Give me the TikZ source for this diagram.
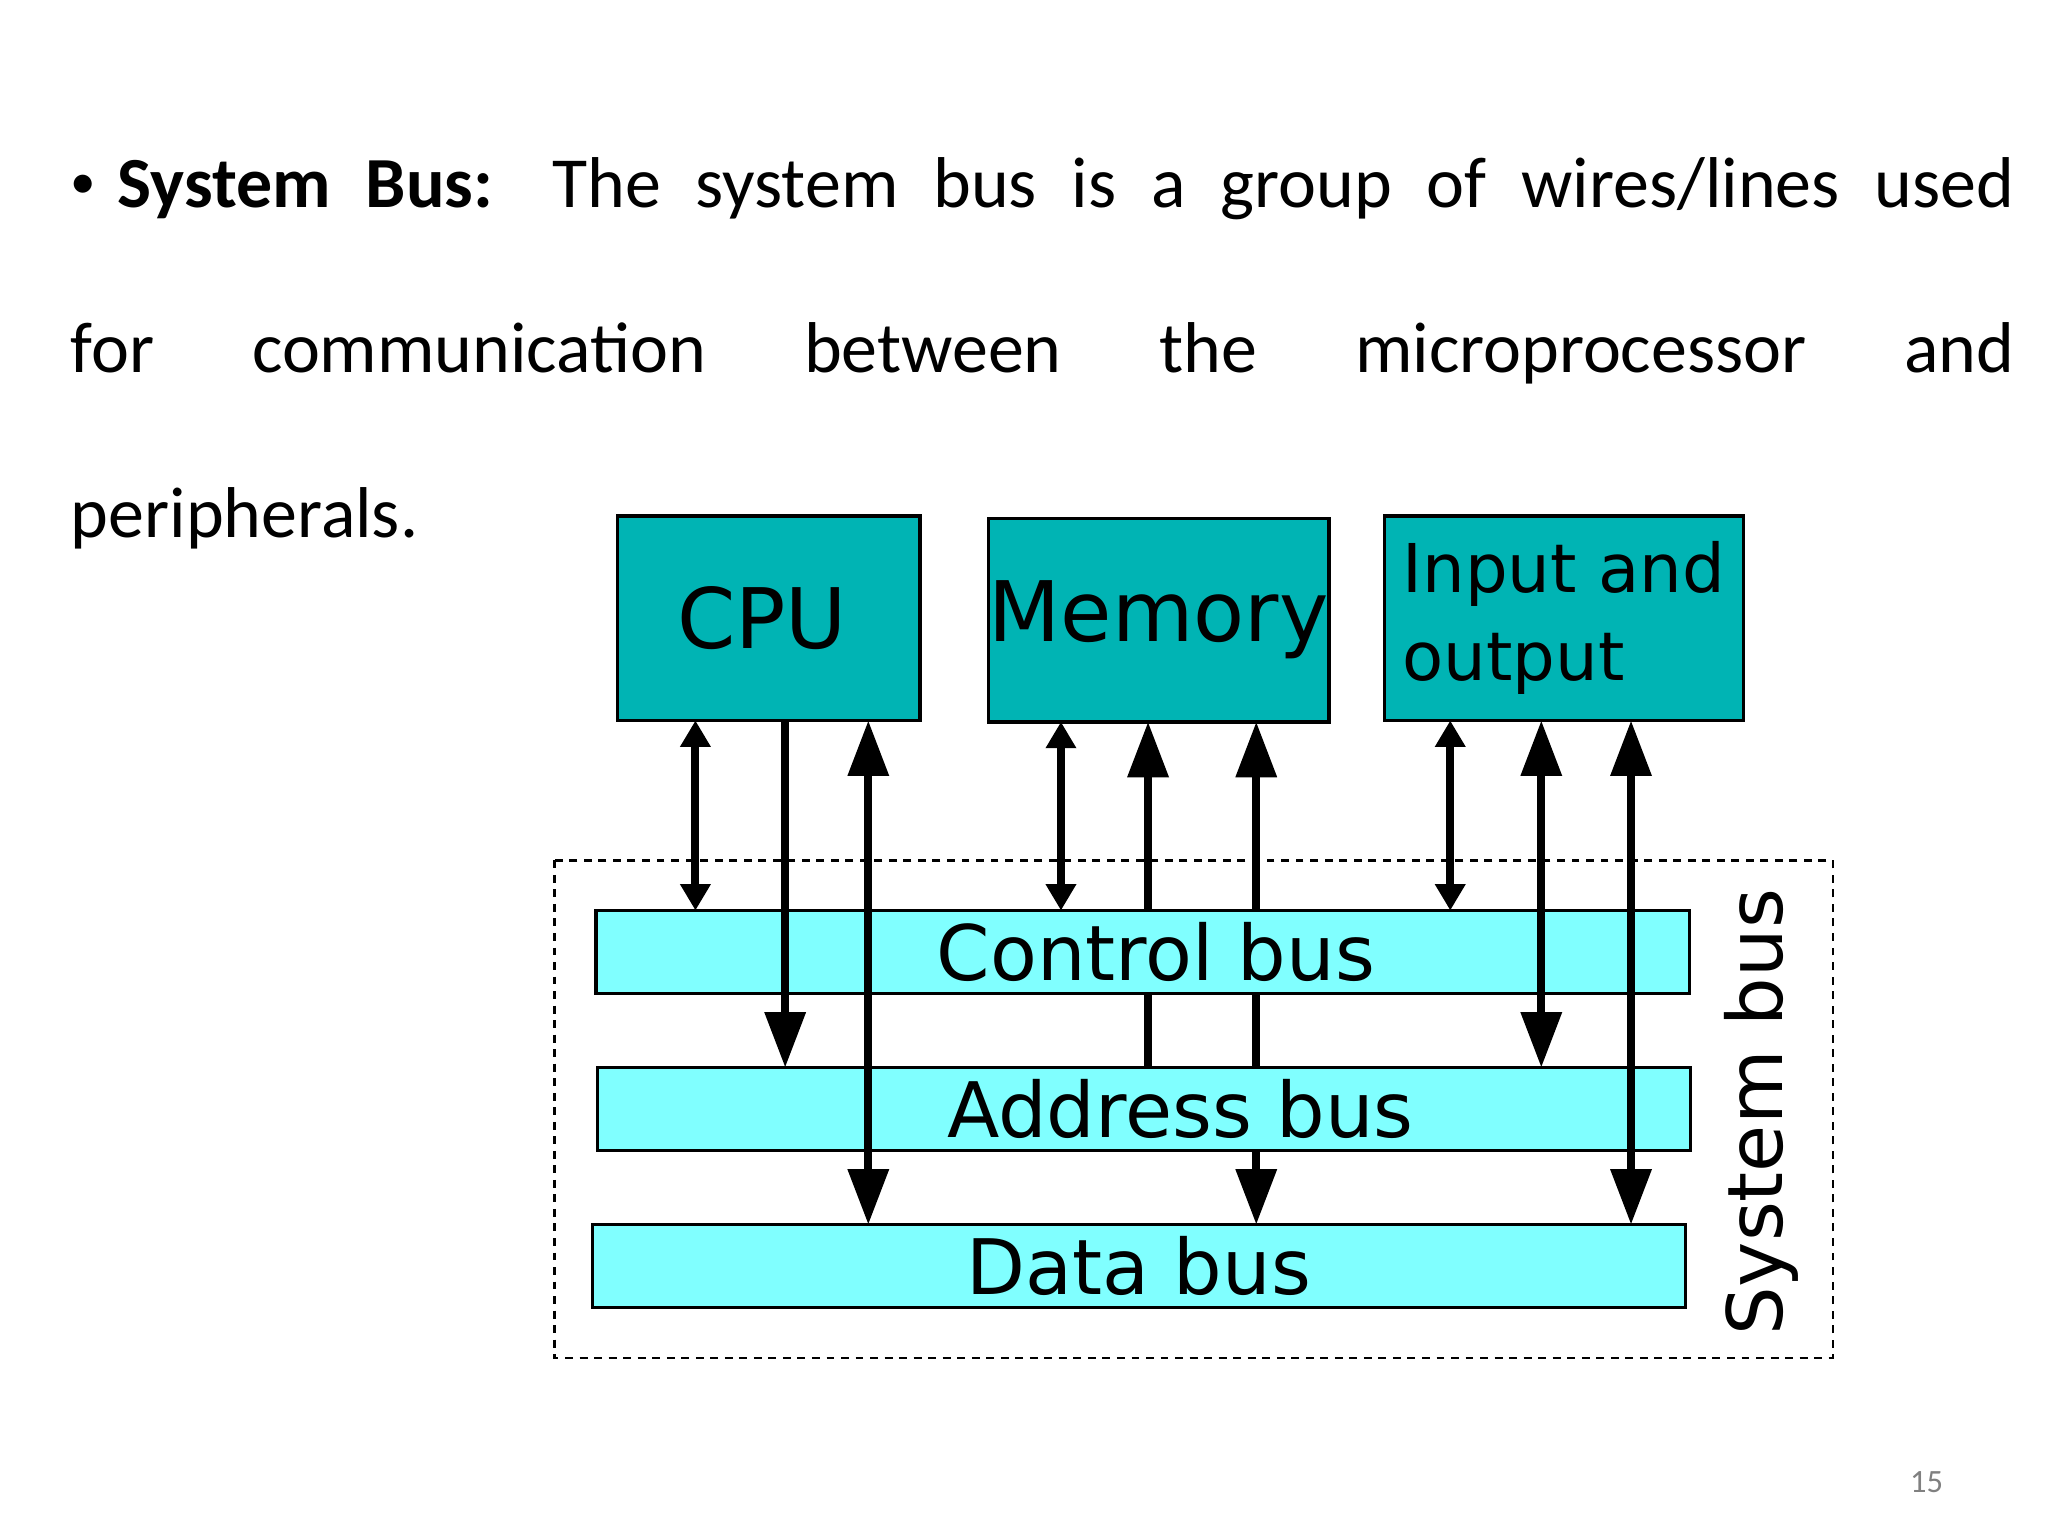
\documentclass[tikz,border=0pt]{standalone}
\usepackage{fontspec}
\setmainfont{Carlito}
\newfontfamily\djvfont{DejaVu Sans}
\usetikzlibrary{arrows.meta}
\begin{document}
\begin{tikzpicture}[x=0.01cm,y=-0.01cm,
  top/.style={draw=black,line width=0.025cm,fill=teal0,inner sep=0},
  bus/.style={draw=black,line width=0.025cm,fill=cyan0,inner sep=0},
  ln/.style={line width=0.06cm},
  big/.style={-{Triangle[length=0.42cm,width=0.3cm]}},
  dbl/.style={{Triangle[length=0.2cm,width=0.22cm]}-{Triangle[length=0.2cm,width=0.22cm]}},
  dbig/.style={{Triangle[length=0.42cm,width=0.3cm]}-{Triangle[length=0.42cm,width=0.3cm]}}]
\definecolor{teal0}{HTML}{00B4B4}
\definecolor{cyan0}{HTML}{80FFFF}
\useasboundingbox (0,0) rectangle (1552,1164);
\fill[white] (0,0) rectangle (1552,1164);
% text
\node[anchor=base west,inner sep=0,font=\fontsize{15.5pt}{18pt}\selectfont] (l1) at (53,157)
 {\makebox[14.72cm][s]{\raisebox{0.12em}{\fontsize{11pt}{12pt}\selectfont\textbullet}\hspace{0.3em}\textbf{System Bus:} The system bus is a group of wires/lines used}};
\node[anchor=base west,inner sep=0,font=\fontsize{15.5pt}{18pt}\selectfont] (l2) at (53,282)
 {\makebox[14.72cm][s]{for communication between the microprocessor and}};
\node[anchor=base west,inner sep=0,font=\fontsize{15.5pt}{18pt}\selectfont] (l3) at (53,407) {peripherals.};
\node[font=\fontsize{7pt}{8pt}\selectfont,text=gray] (pg) at (1460,1123) {15};
% dashed
\draw[line width=0.02cm,dash pattern=on 0.06cm off 0.05cm] (420,652) rectangle (1389,1029);
\node[rotate=90,font=\djvfont\fontsize{16.5pt}{18pt}\selectfont] (sb) at (1335,843) {System bus};
% top boxes
\node[top,minimum width=2.29cm,minimum height=1.55cm,font=\djvfont\fontsize{18pt}{20pt}\selectfont] (cpu) at (582.5,468.5) {\hspace{-0.1cm}CPU};
\node[top,minimum width=2.58cm,minimum height=1.54cm,font=\djvfont\fontsize{18pt}{20pt}\selectfont] (mem) at (878,470) {Memory};
\node[top,minimum width=2.72cm,minimum height=1.55cm,font=\djvfont\fontsize{14.5pt}{19pt}\selectfont,align=left] (io) at (1185,468.5) {Input and\\output};
% behind arrows
\draw[ln,big] (870,809) -- (870,547);
\draw[ln,dbig] (952,547) -- (952,928);
% buses
\node[bus,minimum width=8.28cm,minimum height=0.63cm,font=\djvfont\fontsize{16.5pt}{18pt}\selectfont] (cb) at (866,721.5) {\hspace{0.2cm}Control bus};
\node[bus,minimum width=8.28cm,minimum height=0.63cm,font=\djvfont\fontsize{16.5pt}{18pt}\selectfont] (ab) at (867,840.5) {\hspace{0.55cm}Address bus};
\node[bus,minimum width=8.28cm,minimum height=0.63cm,font=\djvfont\fontsize{16.5pt}{18pt}\selectfont] (db) at (863,959.5) {Data bus};
% front arrows
\draw[ln,dbl] (527,546) -- (527,690);
\draw[ln,big] (595,546) -- (595,809);
\draw[ln,dbig] (658,546) -- (658,928);
\draw[ln,dbl] (804,547) -- (804,690);
\draw[ln,dbl] (1099,546) -- (1099,690);
\draw[ln,dbig] (1168,546) -- (1168,809);
\draw[ln,dbig] (1236,546) -- (1236,928);
\end{tikzpicture}
\end{document}
